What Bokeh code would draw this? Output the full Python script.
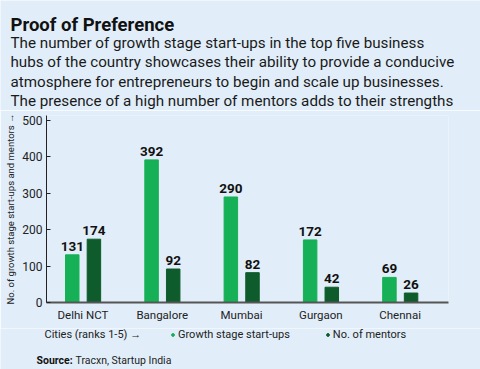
from bokeh.plotting import figure
from bokeh.layouts import column
from bokeh.models import (ColumnDataSource, Range1d, Label, LabelSet, Legend, LegendItem,
                          FixedTicker)
from bokeh.transform import dodge
from bokeh.core.properties import value
from bokeh.embed import file_html
from bokeh.resources import INLINE

cities = ["Delhi NCT", "Bangalore", "Mumbai", "Gurgaon", "Chennai"]
startups = [131, 392, 290, 172, 69]
mentors = [174, 92, 82, 42, 26]
y_ticks = [0, 100, 200, 300, 400, 500]

title_text = "Proof of Preference"
subtitle_lines = [
    "The number of growth stage start-ups in the top five business",
    "hubs of the country showcases their ability to provide a conducive",
    "atmosphere for entrepreneurs to begin and scale up businesses.",
    "The presence of a high number of mentors adds to their strengths",
]
series_names = ["Growth stage start-ups", "No. of mentors"]
x_title = "Cities (ranks 1-5) \u2192"
y_title = "No. of growth stage start-ups and mentors \u2192"
source_head, source_body = "Source:", "Tracxn, Startup India"

BG = "#e1eef9"
GREEN = "#16b056"
DARK = "#0e5c2c"
FONT = "Roboto"
W = 480
HEAD_H, MAIN_H, FOOT_H = 110, 218, 41

src = ColumnDataSource(dict(
    x=list(range(len(cities))),
    startups=startups,
    mentors=mentors,
    s_lbl=[str(v) for v in startups],
    m_lbl=[str(v) for v in mentors],
))

def no_align(f):
    try:
        f.frame_align = False
    except Exception:
        pass
    return f

def blank(h):
    f = figure(width=W, height=h, output_backend="svg", toolbar_location=None,
               x_range=Range1d(0, W), y_range=Range1d(h, 0),
               x_axis_location=None, y_axis_location=None, title=None,
               min_border=0, background_fill_color=BG, border_fill_color=BG,
               outline_line_color=None)
    f.grid.visible = False
    return no_align(f)

def text(f, s, x, y, size, style="normal", color="#111111", baseline="alphabetic"):
    f.add_layout(Label(x=x, y=y, text=s, text_font=FONT, text_font_size=size,
                       text_font_style=style, text_color=color,
                       text_baseline=baseline))

# ---------- header ----------
head = blank(HEAD_H)
text(head, title_text, 10, 24, "18.5px", style="bold")
for i, line in enumerate(subtitle_lines):
    text(head, line, 10, 42.5 + i * 19.3, "15.2px", color="#1a1a1a")

# ---------- main chart ----------
p = figure(width=W, height=MAIN_H, output_backend="svg", toolbar_location=None,
           title=None, x_range=Range1d(-0.46, 4.61), y_range=Range1d(0, 514),
           min_border_left=46, min_border_right=32, min_border_top=5,
           min_border_bottom=26,
           background_fill_color=BG, border_fill_color=BG, outline_line_color=None)
no_align(p)
p.grid.visible = False

p.vbar(x=dodge("x", -0.135, range=p.x_range), top="startups", width=0.17,
       source=src, color=GREEN)
p.vbar(x=dodge("x", 0.138, range=p.x_range), top="mentors", width=0.17,
       source=src, color=DARK)

for col, lbl, off in (("startups", "s_lbl", -0.135), ("mentors", "m_lbl", 0.138)):
    p.add_layout(LabelSet(x=dodge("x", off, range=p.x_range), y=col, text=lbl,
                          source=src, y_offset=4, text_align="center",
                          text_baseline="bottom", text_font=value(FONT),
                          text_font_size="13.5px", text_font_style="bold",
                          text_color="#111111"))

xa = p.xaxis[0]
xa.ticker = FixedTicker(ticks=list(range(len(cities))))
xa.major_label_overrides = {i: c for i, c in enumerate(cities)}
xa.major_tick_line_color = None
xa.minor_tick_line_color = None
xa.major_tick_out = 0
xa.minor_tick_out = 0
xa.major_tick_in = 0
xa.axis_line_color = "#555555"
xa.axis_line_width = 2
xa.major_label_text_font = FONT
xa.major_label_text_font_size = "11.5px"
xa.major_label_text_color = "#222222"
xa.major_label_standoff = 5

ya = p.yaxis[0]
ya.ticker = FixedTicker(ticks=y_ticks)
ya.major_tick_in = 4
ya.major_tick_out = 0
ya.minor_tick_out = 0
ya.minor_tick_line_color = None
ya.axis_line_color = "#222222"
ya.major_tick_line_color = "#222222"
ya.major_label_text_font = FONT
ya.major_label_text_font_size = "12px"
ya.major_label_text_color = "#222222"
ya.major_label_standoff = 4
ya.axis_label = y_title
ya.axis_label_text_font = FONT
ya.axis_label_text_font_size = "9.5px"
ya.axis_label_text_font_style = "normal"
ya.axis_label_text_color = "#222222"
ya.axis_label_standoff = 3

# ---------- footer ----------
foot = blank(FOOT_H)
r1 = foot.scatter(x="x", y="startups", source=src, marker="circle", size=7,
                  color=GREEN, muted_alpha=0)
r2 = foot.scatter(x="x", y="mentors", source=src, marker="circle", size=7,
                  color=DARK, muted_alpha=0)
r1.muted = True
r2.muted = True
leg = Legend(items=[LegendItem(label=value(series_names[0]), renderers=[r1]),
                    LegendItem(label=value(series_names[1]), renderers=[r2])],
             orientation="horizontal", location=(169, FOOT_H - 12.5),
             background_fill_alpha=0, border_line_color=None,
             label_text_font=FONT, label_text_font_size="11px",
             label_text_color="#222222", glyph_width=7, glyph_height=7,
             label_standoff=2, spacing=34, padding=0, margin=0,
             label_height=11, click_policy="none")
foot.add_layout(leg, "center")

text(foot, x_title, 44, 6, "11px", color="#222222", baseline="middle")
text(foot, source_head, 36, 32, "10.5px", style="bold")
text(foot, source_body, 75, 32, "10.5px", color="#222222")

page = column(head, p, foot, spacing=0)
open("out.html", "w").write(file_html(page, INLINE))
